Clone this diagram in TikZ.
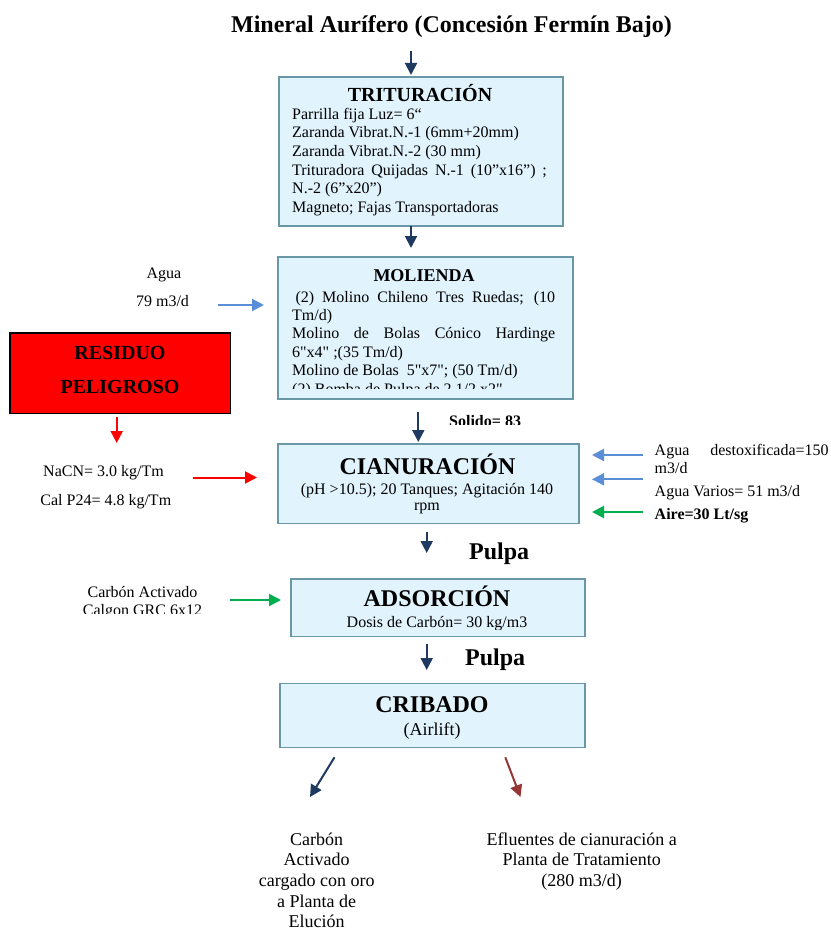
\documentclass[tikz,border=0pt]{standalone}
\usepackage{fontspec}
\setmainfont{Liberation Serif}[Ligatures=TeXOff]
\usetikzlibrary{arrows.meta}
\definecolor{boxfill}{HTML}{E1F3FD}
\definecolor{boxline}{HTML}{6A97A8}
\definecolor{navy}{HTML}{1F3A60}
\definecolor{lblue}{HTML}{5A8ED6}
\definecolor{agreen}{HTML}{00B050}
\definecolor{dred}{HTML}{953735}
\definecolor{pred}{HTML}{FF0000}
\tikzset{
  procbox/.style={draw=boxline, fill=boxfill, line width=1.6pt, inner sep=0, anchor=north west},
  txt/.style={inner sep=0, anchor=base west, font=\fontsize{16}{18.4}\selectfont},
  ctxt/.style={inner sep=0, anchor=base, font=\fontsize{16}{18.4}\selectfont},
  ltxt/.style={inner sep=0, anchor=base, font=\fontsize{18}{20.7}\selectfont},
  btxt/.style={inner sep=0, anchor=base west, font=\fontsize{16}{18.4}\selectfont\bfseries},
  btitle/.style={inner sep=0, anchor=base, font=\fontsize{24}{28}\selectfont\bfseries},
  mtitle/.style={inner sep=0, anchor=base, font=\fontsize{20}{24}\selectfont\bfseries},
  pulpa/.style={inner sep=0, anchor=base west, font=\fontsize{24}{28}\selectfont\bfseries},
  flow/.style={line width=2pt, -{Triangle[length=12pt,width=12pt]}},
}
\begin{document}
\begin{tikzpicture}[x=1pt,y=-1pt]
\useasboundingbox (0,0) rectangle (830,931);
% title
\node[btitle] (title) at (451.5,32.3) {Mineral Aurífero (Concesión Fermín Bajo)};

% TRITURACION
\node[procbox, minimum width=284pt, minimum height=149pt] (trit) at (278,76) {};
\node[mtitle] (tritT) at (420,102) {TRITURACIÓN};
\node[txt] (t1) at (292,119.5) {Parrilla fija Luz= 6“};
\node[txt] (t2) at (292,138) {Zaranda Vibrat.N.-1 (6mm+20mm)};
\node[txt] (t3) at (292,156.5) {Zaranda Vibrat.N.-2 (30 mm)};
\node[txt] (t4) at (292,175) {\makebox[254.7pt][s]{Trituradora Quijadas N.-1 (10”x16”) ;}};
\node[txt] (t5) at (292,193.5) {N.-2 (6”x20”)};
\node[txt] (t6) at (292,212) {Magneto; Fajas Transportadoras};

% MOLIENDA
\node[procbox, minimum width=295pt, minimum height=142pt] (mol) at (277,256) {};
\node[inner sep=0, anchor=base, font=\fontsize{18}{22}\selectfont\bfseries] (molT) at (424,281.7) {MOLIENDA};
\node[txt] (m1) at (295.3,302) {\makebox[259.7pt][s]{(2) Molino Chileno Tres Ruedas; (10}};
\node[txt] (m2) at (292,320.4) {Tm/d)};
\node[txt] (m3) at (292,338.8) {\makebox[263pt][s]{Molino de Bolas Cónico Hardinge}};
\node[txt] (m4) at (292,357.2) {6"x4" ;(35 Tm/d)};
\node[txt] (m5) at (292,375.6) {Molino de Bolas\ \ 5"x7"; (50 Tm/d)};
\begin{scope}
\clip (277,256) rectangle (572,388.5);
\node[txt] (m6) at (292,394) {(2) Bomba de Pulpa de 2 1/2 x2"};
\end{scope}

% Agua
\node[ctxt] (agua) at (164,278.3) {Agua};
\node[ctxt] (agua2) at (162.5,306.7) {79 m3/d};
\coordinate (ag1) at (218,305);
\coordinate (ag2) at (264,305);
\draw[flow, lblue] (ag1) -- (ag2);

% RESIDUO
\node[draw=black, fill=pred, line width=1.2pt, anchor=north west, minimum width=220.7pt, minimum height=80.4pt, inner sep=0] (res) at (9.3,332.3) {};
\node[mtitle] (res1) at (120,359) {RESIDUO};
\node[mtitle] (res2) at (120,393.3) {PELIGROSO};
\coordinate (r1) at (116.7,416.5);
\coordinate (r2) at (116.7,443);
\draw[flow, pred] (r1) -- (r2);

% NaCN
\node[ctxt] (nacn) at (103.5,476.7) {NaCN= 3.0 kg/Tm};
\node[ctxt] (cal) at (105.8,505) {Cal P24= 4.8 kg/Tm};
\coordinate (n1) at (192.7,477.5);
\coordinate (n2) at (257,477.5);
\draw[flow, pred] (n1) -- (n2);

% arrows down
\coordinate (d0a) at (411,51);
\coordinate (d0b) at (411,75);
\draw[flow, navy] (d0a) -- (d0b);
\coordinate (d1a) at (411,226);
\coordinate (d1b) at (411,248);
\draw[flow, navy] (d1a) -- (d1b);
\coordinate (d2a) at (418.3,412);
\coordinate (d2b) at (418.3,442);
\draw[flow, navy] (d2a) -- (d2b);

% Solido
\begin{scope}
\clip (440,405) rectangle (540,424.5);
\node[btxt] (sol) at (449,426) {Solido= 83};
\end{scope}

% CIANURACION
\node[procbox, minimum width=301pt, minimum height=79.4pt] (cian) at (277.3,443.3) {};
\node[btitle] (cianT) at (427.5,474) {CIANURACIÓN};
\node[ctxt] (c1) at (427,494.3) {(pH >10.5); 20 Tanques; Agitación 140};
\node[ctxt] (c2) at (427,510) {rpm};

% right inputs
\node[txt] (w1) at (654.5,455.5) {\makebox[174pt][s]{Agua destoxificada=150}};
\node[txt] (w1b) at (654.5,473.5) {m3/d};
\node[txt] (w2) at (654.5,496) {Agua Varios= 51 m3/d};
\node[btxt] (air) at (654.5,519.5) {Aire=30 Lt/sg};
\coordinate (w1s) at (643,455);
\coordinate (w1e) at (592,455);
\draw[flow, lblue] (w1s) -- (w1e);
\coordinate (w2s) at (643,479.3);
\coordinate (w2e) at (592,479.3);
\draw[flow, lblue] (w2s) -- (w2e);
\coordinate (w3s) at (643,512);
\coordinate (w3e) at (592,512);
\draw[flow, agreen] (w3s) -- (w3e);

% Pulpa 1
\coordinate (d3a) at (426.7,531.5);
\coordinate (d3b) at (426.7,553);
\draw[flow, navy] (d3a) -- (d3b);
\node[pulpa] (p1) at (469,559) {Pulpa};

% Carbon activado
\node[ctxt] (ca1) at (142.5,597) {Carbón Activado};
\begin{scope}
\clip (60,600) rectangle (230,613.5);
\node[ctxt] (ca2) at (142.5,615.5) {Calgon GRC 6x12};
\end{scope}
\coordinate (g1) at (230,600);
\coordinate (g2) at (281,600);
\draw[flow, agreen] (g1) -- (g2);

% ADSORCION
\node[procbox, minimum width=294pt, minimum height=57.4pt] (ads) at (290,578.3) {};
\node[btitle] (adsT) at (437,606.7) {ADSORCIÓN};
\begin{scope}
\clip (291,610) rectangle (583,629);
\node[ctxt] (ads1) at (437,627.5) {Dosis de Carbón= 30 kg/m3};
\end{scope}

% Pulpa 2
\coordinate (d4a) at (426.7,644);
\coordinate (d4b) at (426.7,670);
\draw[flow, navy] (d4a) -- (d4b);
\node[pulpa] (p2) at (465,665) {Pulpa};

% CRIBADO
\node[procbox, minimum width=305pt, minimum height=64pt] (crib) at (279.3,682.7) {};
\node[btitle] (cribT) at (432,712.3) {CRIBADO};
\node[ltxt] (crib1) at (432,735) {(Airlift)};

\coordinate (e1a) at (334.5,757.3);
\coordinate (e1b) at (310,797);
\draw[flow, navy] (e1a) -- (e1b);
\coordinate (e2a) at (505.3,757.3);
\coordinate (e2b) at (520.5,797);
\draw[flow, dred] (e2a) -- (e2b);

% bottom texts
\node[ltxt] (b1) at (316.7,845) {Carbón};
\node[ltxt] (b2) at (316.7,865.7) {Activado};
\node[ltxt] (b3) at (316.7,886.3) {cargado con oro};
\node[ltxt] (b4) at (316.7,907) {a Planta de};
\node[ltxt] (b5) at (316.7,927.7) {Elución};
\node[ltxt] (e1) at (581.7,845) {Efluentes de cianuración a};
\node[ltxt] (e2) at (581.7,865.7) {Planta de Tratamiento};
\node[ltxt] (e3) at (581.7,886.3) {(280 m3/d)};
\end{tikzpicture}
\end{document}
